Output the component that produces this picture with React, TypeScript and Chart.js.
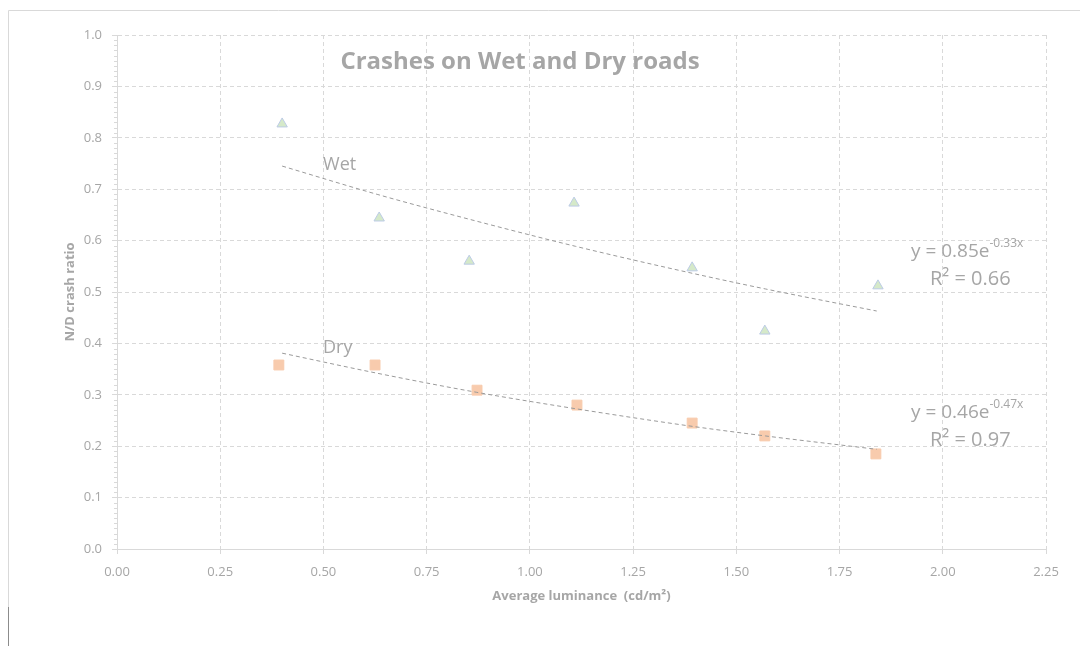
import React, { useEffect, useRef } from "react";
import { Chart, registerables } from "chart.js";

Chart.register(...registerables);

// ---- data ----
const wetX = [0.4, 0.635, 0.853, 1.107, 1.393, 1.569, 1.843];
const wetY = [0.827, 0.644, 0.56, 0.673, 0.547, 0.424, 0.512];
const dryX = [0.392, 0.625, 0.872, 1.114, 1.393, 1.569, 1.838];
const dryY = [0.358, 0.358, 0.309, 0.28, 0.245, 0.22, 0.185];
const trendX = [0.4, 0.63, 0.87, 1.11, 1.39, 1.57, 1.84];
const wetTrendY = [0.745, 0.69, 0.638, 0.589, 0.537, 0.506, 0.463];
const dryTrendY = [0.381, 0.342, 0.305, 0.273, 0.239, 0.22, 0.194];

const chartTitle = "Crashes on Wet and Dry roads";
const xAxisTitle = "Average luminance  (cd/m²)";
const yAxisTitle = "N/D crash ratio";
const wetLabel = "Wet";
const dryLabel = "Dry";
const wetEqMain = "y = 0.85e";
const wetEqSup = "-0.33x";
const wetR2 = "R² = 0.66";
const dryEqMain = "y = 0.46e";
const dryEqSup = "-0.47x";
const dryR2 = "R² = 0.97";

const FONT = "'Open Sans', 'Noto Sans', sans-serif";
const GRID = "#d9d9d9";
const TEXT = "#a6a6a6";

const toPts = (xs: number[], ys: number[]) => xs.map((x, i) => ({ x, y: ys[i] }));

const decorPlugin = {
  id: "decor",
  beforeDraw(chart: any) {
    const { ctx, width, height } = chart;
    ctx.save();
    ctx.strokeStyle = GRID;
    ctx.lineWidth = 1;
    ctx.beginPath();
    ctx.moveTo(0.5, height);
    ctx.lineTo(0.5, 2.5);
    ctx.lineTo(width, 2.5);
    ctx.stroke();
    ctx.strokeStyle = "#8c8c8c";
    ctx.beginPath();
    ctx.moveTo(0.5, height - 39);
    ctx.lineTo(0.5, height);
    ctx.stroke();
    ctx.restore();
  },
  afterDraw(chart: any) {
    const { ctx, chartArea } = chart;
    const xs = chart.scales.x;
    const ys = chart.scales.y;
    ctx.save();
    // minor ticks on y axis
    ctx.strokeStyle = GRID;
    ctx.lineWidth = 1;
    ctx.beginPath();
    for (let i = 0; i <= 100; i++) {
      if (i % 10 === 0) continue;
      const py = Math.round(ys.getPixelForValue(i / 100)) + 0.5;
      ctx.moveTo(chartArea.left - 3, py);
      ctx.lineTo(chartArea.left, py);
    }
    ctx.stroke();

    ctx.fillStyle = TEXT;
    ctx.textBaseline = "middle";

    // title
    ctx.font = `bold 24px ${FONT}`;
    ctx.textAlign = "center";
    ctx.fillText(chartTitle, 512, 54);

    // series labels
    ctx.font = `18px ${FONT}`;
    ctx.textAlign = "left";
    ctx.fillText(wetLabel, xs.getPixelForValue(0.499), ys.getPixelForValue(0.747));
    ctx.fillText(dryLabel, xs.getPixelForValue(0.499), ys.getPixelForValue(0.391));

    const drawEq = (main: string, sup: string, r2: string, x: number, y: number, y2: number, x2: number) => {
      ctx.font = `19px ${FONT}`;
      ctx.textAlign = "left";
      const px = xs.getPixelForValue(x);
      const py = ys.getPixelForValue(y);
      ctx.fillText(main, px, py);
      const w = ctx.measureText(main).width;
      ctx.font = `12px ${FONT}`;
      ctx.fillText(sup, px + w, py - 8);
      ctx.font = `20px ${FONT}`;
      ctx.fillText(r2, xs.getPixelForValue(x2), ys.getPixelForValue(y2));
    };
    drawEq(wetEqMain, wetEqSup, wetR2, 1.923, 0.578, 0.525, 1.969);
    drawEq(dryEqMain, dryEqSup, dryR2, 1.923, 0.265, 0.212, 1.969);

    // axis titles
    ctx.font = `bold 13px ${FONT}`;
    ctx.textAlign = "center";
    ctx.fillText(xAxisTitle, (chartArea.left + chartArea.right) / 2, 588);
    ctx.save();
    ctx.translate(62, (chartArea.top + chartArea.bottom) / 2);
    ctx.rotate(-Math.PI / 2);
    ctx.fillText(yAxisTitle, 0, 0);
    ctx.restore();

    ctx.restore();
  },
};

export default function App() {
  const ref = useRef<HTMLCanvasElement | null>(null);
  useEffect(() => {
    if (!ref.current) return;
    const chart = new Chart(ref.current, {
      type: "scatter",
      data: {
        datasets: [
          {
            label: "Wet trend",
            data: toPts(trendX, wetTrendY),
            showLine: true,
            borderColor: "#9a9a9a",
            borderWidth: 1,
            borderDash: [4, 3],
            pointRadius: 0,
            tension: 0.4,
            cubicInterpolationMode: "monotone",
          },
          {
            label: "Dry trend",
            data: toPts(trendX, dryTrendY),
            showLine: true,
            borderColor: "#9a9a9a",
            borderWidth: 1,
            borderDash: [4, 3],
            pointRadius: 0,
            tension: 0.4,
            cubicInterpolationMode: "monotone",
          },
          {
            label: "Wet",
            data: toPts(wetX, wetY),
            pointStyle: "triangle",
            pointRadius: 6,
            backgroundColor: "#d5e9c9",
            borderColor: "#bccbe6",
            borderWidth: 1,
          },
          {
            label: "Dry",
            data: toPts(dryX, dryY),
            pointStyle: "rect",
            pointRadius: 7,
            backgroundColor: "#f8cbad",
            borderColor: "#f8cbad",
            borderWidth: 1,
          },
        ],
      },
      options: {
        animation: false,
        responsive: false,
        events: [],
        layout: { padding: { left: 0, right: 42, top: 27, bottom: 37 } },
        plugins: { legend: { display: false }, tooltip: { enabled: false }, title: { display: false } },
        scales: {
          x: {
            type: "linear",
            min: 0,
            max: 2.25,
            afterFit: (s: any) => {
              s.height = 60;
            },
            ticks: {
              stepSize: 0.25,
              color: TEXT,
              font: { family: FONT, size: 13 },
              padding: 10,
              maxRotation: 0,
              callback: (v: any) => Number(v).toFixed(2),
            },
            grid: { color: GRID, lineWidth: 1, drawTicks: true, tickLength: 5, tickColor: GRID },
            border: { display: true, color: GRID, width: 1, dash: [4, 3] },
          },
          y: {
            type: "linear",
            min: 0,
            max: 1,
            afterFit: (s: any) => {
              s.width = 109;
            },
            ticks: {
              stepSize: 0.1,
              color: TEXT,
              font: { family: FONT, size: 13 },
              padding: 10,
              callback: (v: any) => Number(v).toFixed(1),
            },
            grid: { color: GRID, lineWidth: 1, drawTicks: true, tickLength: 5, tickColor: GRID },
            border: { display: true, color: GRID, width: 1, dash: [4, 3] },
          },
        },
      },
      plugins: [decorPlugin],
    } as any);
    return () => chart.destroy();
  }, []);
  return (
    <div style={{ width: 1080, height: 638 }}>
      <canvas ref={ref} width={1080} height={638} style={{ display: "block" }} />
    </div>
  );
}
